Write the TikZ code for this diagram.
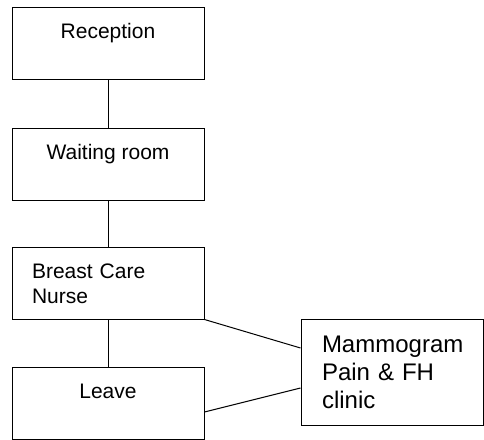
\documentclass[tikz,border=0pt]{standalone}
\usepackage{fontspec}
\setmainfont{Liberation Sans}
\usepackage{tikz}
\usetikzlibrary{positioning,calc}
\tikzset{% 
  room box/.style={%
    draw,
    line width=1pt,
    minimum width=192pt,
    minimum height=72pt,
    inner xsep=0pt,
    inner ysep=0pt,
    font=\fontsize{21}{25}\selectfont,
    text height=31pt,
    text depth=41pt
  }
}
\tikzset{% 
  clinic box/.style={%
    draw,
    line width=1pt,
    inner xsep=21pt,
    inner ysep=0pt,
    text width=140pt,
    align=left,
    font=\fontsize{24}{28}\selectfont,
    text height=33pt,
    text depth=73pt
  }
}
\tikzset{% 
  link/.style={%
    line width=1pt
  }
}

\begin{document}
\begin{tikzpicture}[x=1pt,y=-1pt]
  \useasboundingbox (0,0) rectangle (484,439);
  \node [room box] (reception) at (108, 43) {Reception};
  \node [room box] (waiting) at (108, 164) {Waiting room};
  \node [room box, inner xsep=20pt, text width=152pt, align=left] (nurse) at (108, 283) {Breast Care\\Nurse};
  \node [room box] (leave) at (108, 403) {Leave};
  \node [clinic box] (clinic) at (392, 372) {Mammogram\\Pain \& FH\\clinic};
  \draw [link] (reception.south) -- (waiting.north);
  \draw [link] (waiting.south) -- (nurse.north);
  \draw [link] (nurse.south) -- (leave.north);
  \draw [link] (nurse.south east) -- ([yshift=24pt]clinic.west);
  \draw [link] ([yshift=-9pt]leave.east) -- ([yshift=-16pt]clinic.west);
\end{tikzpicture}
\end{document}
